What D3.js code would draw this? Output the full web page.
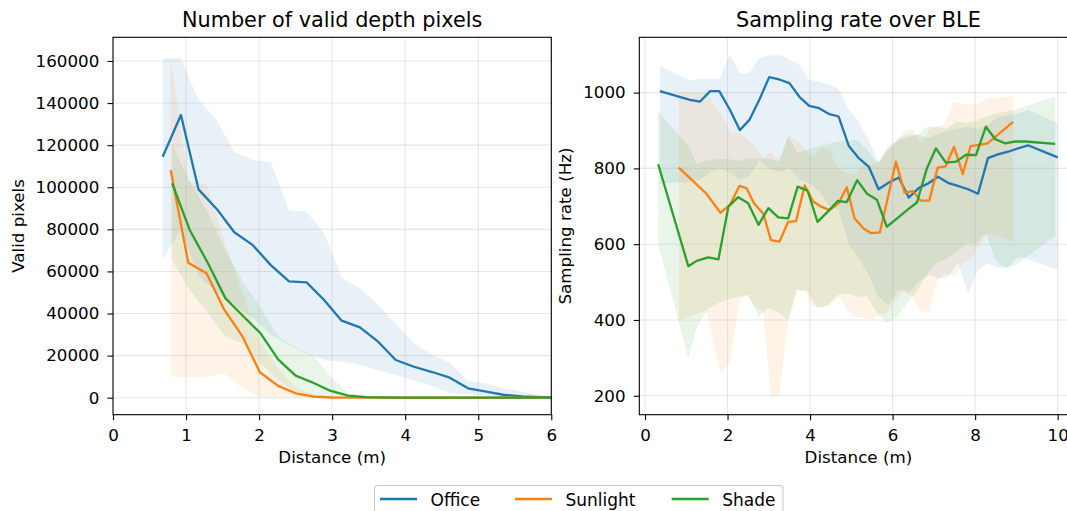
<!DOCTYPE html>
<html>
<head>
<meta charset="utf-8">
<script src="https://cdn.jsdelivr.net/npm/d3@7"></script>
<style>
  body { margin:0; background:#fff; }
  svg  { display:block; font-family:'DejaVu Sans', sans-serif; }
</style>
</head>
<body>
<svg id="chart" width="1067" height="511"></svg>
<script>
// ---- left panel: valid depth pixels vs distance ----
const officeDepthX  = [0.68,0.93,1.17,1.42,1.66,1.91,2.16,2.41,2.65,2.89,3.13,3.38,3.63,3.87,4.12,4.37,4.61,4.86,5.11,5.34,5.6,5.85,6.1];
const officeDepth   = [114500,134300,99000,89700,78600,72600,63000,55300,54800,46400,36600,33400,26600,17900,14700,12200,9500,4450,2850,1400,650,300,150];
const officeDepthHi = [161300,161300,141500,132000,116600,113000,111900,89000,88400,78100,57000,52000,44000,35300,25800,20300,16600,8100,6800,4500,3000,1000,500];
const officeDepthLo = [65800,80000,58000,50000,44000,38000,30000,25000,21000,17900,17100,15500,13000,10800,8000,5500,2200,1500,1000,500,200,0,0];

const sunDepthX  = [0.79,1.03,1.28,1.52,1.77,2.01,2.26,2.5,2.75,2.99,3.24,3.48,3.73,3.97,4.22,4.46,4.71,4.95,5.2,5.44,5.69,5.93,6.18];
const sunDepth   = [108200,64100,59100,42000,29300,12100,5600,2100,500,100,0,0,0,0,0,0,0,0,0,0,0,0,0];
const sunDepthHi = [161000,102600,101500,75000,50000,27000,14000,5000,1500,300,0,0,0,0,0,0,0,0,0,0,0,0,0];
const sunDepthLo = [10000,9900,9800,11600,4500,500,0,0,0,0,0,0,0,0,0,0,0,0,0,0,0,0,0];

const shadeDepthX  = [0.81,1.05,1.3,1.54,1.78,2.02,2.26,2.5,2.74,2.98,3.22,3.47,3.71,3.95,4.19,4.43,4.68,4.92,5.16,5.4,5.64,5.89,6.13];
const shadeDepth   = [101900,79700,63900,47200,38800,30600,18200,10500,7100,3200,950,300,100,0,0,0,0,0,0,0,0,0,0];
const shadeDepthHi = [120000,103000,88000,70000,55000,43000,29000,24000,20000,10000,2000,600,200,0,0,0,0,0,0,0,0,0,0];
const shadeDepthLo = [65400,51200,40100,29000,25800,16300,8400,2800,800,0,0,0,0,0,0,0,0,0,0,0,0,0,0];

// ---- right panel: sampling rate vs distance ----
const officeRateX  = [0.36,1.09,1.33,1.58,1.8,2.06,2.3,2.53,2.77,3.01,3.27,3.5,3.74,3.98,4.22,4.47,4.69,4.94,5.18,5.42,5.66,5.9,6.15,6.39,6.63,6.87,7.1,7.34,7.58,7.83,8.07,8.31,8.55,8.8,9.04,9.28,10.0];
const officeRate   = [1004,981,976,1004,1004,954,901,928,981,1041,1034,1025,989,965,959,943,937,859,827,805,745,762,776,723,748,761,778,762,754,745,733,827,837,844,853,861,829];
const officeRateHi = [1070,1032,1036,1036,1036,1100,1051,1051,1093,1097,1100,1088,1073,1034,1029,1020,1009,954,923,875,814,850,880,890,888,880,890,900,905,910,905,915,935,940,945,955,920];
const officeRateLo = [760,765,770,790,800,790,770,780,820,800,790,800,770,760,740,700,690,600,560,520,460,440,480,470,500,520,510,514,550,470,532,550,538,540,567,560,532];

const sunRateX  = [0.82,1.48,1.83,2.06,2.29,2.46,2.64,2.87,3.05,3.26,3.47,3.66,3.87,4.08,4.27,4.47,4.69,4.89,5.08,5.29,5.48,5.69,5.89,6.08,6.29,6.49,6.68,6.89,7.09,7.28,7.49,7.7,7.89,8.09,8.3,8.92];
const sunRate   = [802,734,683,704,754,748,708,680,611,607,659,661,755,712,699,690,708,750,668,642,629,631,725,818,736,740,715,715,802,805,857,785,859,862,866,923];
const sunRateHi = [1000,1000,946,897,893,880,860,827,844,818,884,875,849,831,853,849,796,787,783,814,809,818,862,871,901,903,866,903,910,919,976,970,970,972,985,991];
const sunRateLo = [400,425,259,290,448,466,440,418,197,202,400,479,479,435,435,435,461,428,409,405,400,413,422,453,479,461,422,422,505,523,514,550,558,593,629,607];

const shadeRateX  = [0.32,1.05,1.25,1.53,1.78,2.02,2.26,2.5,2.75,2.99,3.23,3.47,3.7,3.94,4.18,4.43,4.67,4.89,5.14,5.38,5.62,5.86,6.11,6.35,6.59,6.83,7.05,7.29,7.54,7.78,8.02,8.26,8.49,8.73,8.97,9.21,9.94];
const shadeRate   = [811,542,556,565,560,699,724,708,651,695,671,668,752,741,659,686,714,711,769,733,717,646,668,690,710,800,853,815,818,836,835,910,877,866,871,871,865];
const shadeRateHi = [950,860,812,822,825,825,820,827,825,827,818,884,840,850,857,865,871,873,875,849,815,850,873,880,888,910,910,905,923,920,925,937,945,950,955,963,989];
const shadeRateLo = [600,299,380,430,445,455,461,466,409,431,420,400,479,475,431,440,466,470,461,462,420,391,410,444,475,520,550,560,580,602,602,629,558,536,545,563,620];

const seriesNames = ['Office','Sunlight','Shade'];
const depthTicksX = [0,1,2,3,4,5,6];
const depthTicksY = [0,20000,40000,60000,80000,100000,120000,140000,160000];
const rateTicksX  = [0,2,4,6,8,10];
const rateTicksY  = [200,400,600,800,1000];

const colors = { Office:'#1f77b4', Sunlight:'#ff7f0e', Shade:'#2ca02c' };
const svg = d3.select('#chart');
const TICK_FS = '16.7px';

function panel(cfg) {
  const { id, left, right, top, bottom } = cfg;
  const x = d3.scaleLinear().domain(cfg.xDomain).range([left, right]);
  const y = d3.scaleLinear().domain(cfg.yDomain).range([bottom, top]);

  svg.append('clipPath').attr('id', id)
    .append('rect').attr('x', left).attr('y', top).attr('width', right-left).attr('height', bottom-top);
  const plot = svg.append('g').attr('clip-path', `url(#${id})`);

  // shaded spread bands go underneath everything
  cfg.series.forEach(s => {
    const pts = s.x.map((v,i) => ({ x:v, lo:s.lo[i], hi:s.hi[i] }));
    plot.append('path').datum(pts)
      .attr('fill', colors[s.name]).attr('fill-opacity', 0.1)
      .attr('d', d3.area().x(d => x(d.x)).y0(d => y(d.lo)).y1(d => y(d.hi)));
  });

  plot.selectAll('line.gx').data(cfg.xTicks).join('line')
    .attr('x1', d => x(d)).attr('x2', d => x(d)).attr('y1', top).attr('y2', bottom)
    .attr('stroke', '#b0b0b0').attr('stroke-opacity', 0.3).attr('stroke-width', 1.1);
  plot.selectAll('line.gy').data(cfg.yTicks).join('line')
    .attr('y1', d => y(d)).attr('y2', d => y(d)).attr('x1', left).attr('x2', right)
    .attr('stroke', '#b0b0b0').attr('stroke-opacity', 0.3).attr('stroke-width', 1.1);

  cfg.series.forEach(s => {
    const pts = s.x.map((v,i) => [v, s.y[i]]);
    plot.append('path').datum(pts)
      .attr('fill', 'none').attr('stroke', colors[s.name]).attr('stroke-width', 2.3)
      .attr('stroke-linejoin', 'round')
      .attr('d', d3.line().x(d => x(d[0])).y(d => y(d[1])));
  });

  svg.append('rect').attr('x', left).attr('y', top).attr('width', right-left).attr('height', bottom-top)
    .attr('fill', 'none').attr('stroke', '#000').attr('stroke-width', 1.1);

  const xa = svg.append('g').attr('transform', `translate(0,${bottom})`)
    .call(d3.axisBottom(x).tickValues(cfg.xTicks).tickSize(5.5).tickSizeOuter(0).tickPadding(9.4).tickFormat(d3.format('d')));
  const ya = svg.append('g').attr('transform', `translate(${left},0)`)
    .call(d3.axisLeft(y).tickValues(cfg.yTicks).tickSize(5.5).tickSizeOuter(0).tickPadding(8.2).tickFormat(d3.format('d')));
  [xa, ya].forEach(a => {
    a.select('.domain').remove();
    a.selectAll('line').attr('stroke', '#000').attr('stroke-width', 1.1);
    a.selectAll('text').attr('font-size', TICK_FS).attr('fill', '#000').attr('font-family', 'DejaVu Sans');
  });

  svg.append('text').attr('x', (left + right) / 2).attr('y', 26.7)
    .attr('text-anchor', 'middle').attr('font-size', '20.8px').text(cfg.title);
  svg.append('text').attr('x', (left + right) / 2).attr('y', 463)
    .attr('text-anchor', 'middle').attr('font-size', TICK_FS).text('Distance (m)');
  svg.append('text').attr('transform', `translate(${cfg.ylabelX},${(top + bottom) / 2}) rotate(-90)`)
    .attr('text-anchor', 'middle').attr('font-size', TICK_FS).text(cfg.ylabel);
}

panel({
  id: 'clipDepth', left: 113, right: 551.3, top: 37.3, bottom: 414.7,
  xDomain: [0, 6], yDomain: [-8080, 171250],
  xTicks: depthTicksX, yTicks: depthTicksY,
  title: 'Number of valid depth pixels', ylabel: 'Valid pixels', ylabelX: 24,
  series: [
    { name:'Office',   x:officeDepthX, y:officeDepth, lo:officeDepthLo, hi:officeDepthHi },
    { name:'Sunlight', x:sunDepthX,    y:sunDepth,    lo:sunDepthLo,    hi:sunDepthHi },
    { name:'Shade',    x:shadeDepthX,  y:shadeDepth,  lo:shadeDepthLo,  hi:shadeDepthHi },
  ],
});

// right axes run past the canvas edge, as in the original figure
panel({
  id: 'clipRate', left: 639.3, right: 1077.5, top: 37.3, bottom: 414.7,
  xDomain: [-0.138, 10.48], yDomain: [150, 1146],
  xTicks: rateTicksX, yTicks: rateTicksY,
  title: 'Sampling rate over BLE', ylabel: 'Sampling rate (Hz)', ylabelX: 571,
  series: [
    { name:'Office',   x:officeRateX, y:officeRate, lo:officeRateLo, hi:officeRateHi },
    { name:'Sunlight', x:sunRateX,    y:sunRate,    lo:sunRateLo,    hi:sunRateHi },
    { name:'Shade',    x:shadeRateX,  y:shadeRate,  lo:shadeRateLo,  hi:shadeRateHi },
  ],
});

const lg = svg.append('g');
lg.append('rect').attr('x', 374.5).attr('y', 485.5).attr('width', 408.5).attr('height', 40).attr('rx', 3)
  .attr('fill', '#fff').attr('fill-opacity', 0.8).attr('stroke', '#cccccc').attr('stroke-width', 1.1);
const legendX = [380, 515, 671.7];
seriesNames.forEach((n, i) => {
  lg.append('line').attr('x1', legendX[i]).attr('x2', legendX[i] + 37).attr('y1', 499).attr('y2', 499)
    .attr('stroke', colors[n]).attr('stroke-width', 2.3);
  lg.append('text').attr('x', legendX[i] + 50.5).attr('y', 506).attr('font-size', '17px').text(n);
});
</script>
</body>
</html>
